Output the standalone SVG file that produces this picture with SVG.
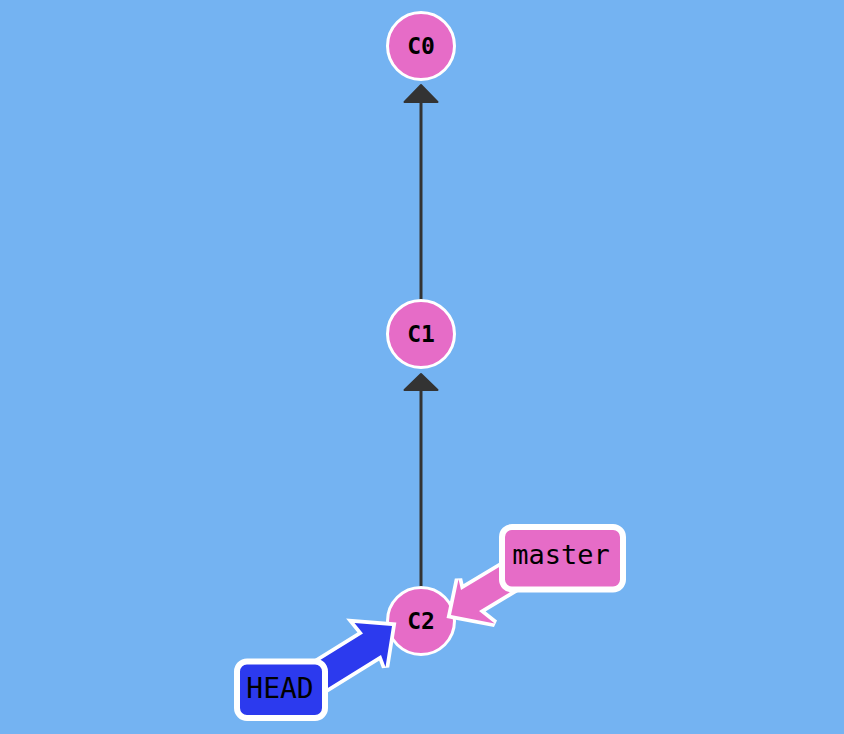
<svg xmlns="http://www.w3.org/2000/svg" width="844" height="734" viewBox="0 0 844 734">
  <style>
    .edge { stroke: #333333; stroke-width: 3; fill: none; }
    .head { fill: #333333; stroke: #333333; stroke-width: 2; stroke-linejoin: round; }
    .commit { fill: #E66CC7; stroke: #FFFFFF; stroke-width: 3; }
    .clabel { font-family: "DejaVu Sans Mono", "Liberation Mono", monospace; font-weight: bold; font-size: 23px; fill: #000000; text-anchor: middle; }
    .rlabel { font-family: "DejaVu Sans Mono", "Liberation Mono", monospace; font-size: 27px; fill: #000000; text-anchor: middle; }
    .refbox { stroke: #FFFFFF; stroke-width: 6; }
    .outline { fill: #FFFFFF; stroke: #FFFFFF; stroke-width: 7.5; stroke-linejoin: miter; stroke-miterlimit: 3; }
    .pink { fill: #E66CC7; }
    .blue { fill: #2C3AEE; }
  </style>
  <defs>
    <polygon id="headArrowShape" points="392,626 385.5,667 381,655 300,705.2 300,672.6 363,633.5 354.5,623"/>
    <polygon id="masterArrowShape" points="451,615 458.5,579.2 461,590 540,542.5 552,567.1 479,611 494.7,623.4"/>
  </defs>
  <rect x="0" y="0" width="844" height="734" fill="#74B3F2"/>
  <g id="connectors">
    <line class="edge" x1="421" y1="300" x2="421" y2="100"/>
    <polygon class="head" points="421,85 404.5,102 437.5,102"/>
    <line class="edge" x1="421" y1="588" x2="421" y2="388"/>
    <polygon class="head" points="421,374 404.5,390 437.5,390"/>
  </g>
  <g id="C0">
    <circle class="commit" cx="421" cy="46" r="33.5"/>
    <text class="clabel" x="421" y="53.5">C0</text>
  </g>
  <g id="C1">
    <circle class="commit" cx="421" cy="334" r="33.5"/>
    <text class="clabel" x="421" y="341.5">C1</text>
  </g>
  <g id="C2">
    <circle class="commit" cx="421" cy="621" r="33.5"/>
    <text class="clabel" x="421" y="628.5">C2</text>
  </g>
  <g id="ref-arrows">
    <use href="#headArrowShape" class="outline"/>
    <use href="#headArrowShape" class="blue"/>
    <use href="#masterArrowShape" class="outline"/>
    <use href="#masterArrowShape" class="pink"/>
  </g>
  <g id="master">
    <rect class="refbox pink" x="502" y="527" width="121" height="62.5" rx="10"/>
    <text class="rlabel" x="561" y="564">master</text>
  </g>
  <g id="HEAD">
    <rect class="refbox blue" x="237" y="661.5" width="88" height="56.5" rx="10"/>
    <text class="rlabel" x="280" y="698" style="font-size:28px">HEAD</text>
  </g>
</svg>
